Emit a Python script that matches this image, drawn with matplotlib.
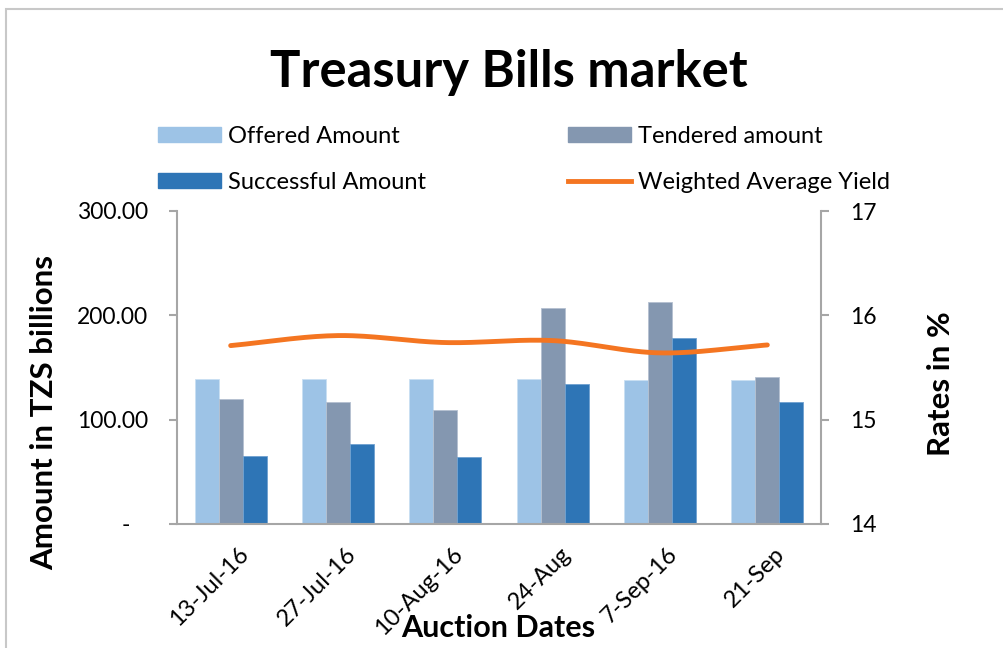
import numpy as np
import matplotlib
matplotlib.use("Agg")
import matplotlib.pyplot as plt
from matplotlib.patches import Patch, Rectangle
from matplotlib.lines import Line2D
from matplotlib.transforms import ScaledTranslation

dates = ["13-Jul-16", "27-Jul-16", "10-Aug-16", "24-Aug", "7-Sep-16", "21-Sep"]
offered = [138.6, 138.6, 138.6, 138.6, 137.7, 137.7]
tendered = [119.4, 116.8, 109.1, 207.0, 212.4, 140.6]
successful = [65.1, 76.4, 64.2, 133.8, 178.4, 116.5]
yield_pct = [15.71, 15.806, 15.739, 15.758, 15.64, 15.716]

left_ticks = [0, 100, 200, 300]
left_ticklabels = ["-   ", "100.00", "200.00", "300.00"]
right_ticks = [14, 15, 16, 17]

c_off = "#9dc3e6"
c_ten = "#8497b0"
c_suc = "#2e75b6"
c_line = "#f47521"
c_axis = "#a6a6a6"

plt.rcParams['font.family'] = ['Lato', 'DejaVu Sans']

W, H = 1004, 648
PT = 72 / 100  # points per pixel
fig = plt.figure(figsize=(W / 100, H / 100), dpi=100)

# chart border (partially cropped)
fig.add_artist(Rectangle((6 / W, -0.1), 1.2, 1 - 9 / H + 0.1, transform=fig.transFigure,
                         fill=False, edgecolor="#c8c8c8", lw=1.5))

ax = fig.add_axes([177 / W, (H - 524) / H, 644 / W, 313 / H])
x = np.arange(len(dates))
bw = 0.224
ax.bar(x - bw, offered, bw, color=c_off, edgecolor="#c9dff2", lw=0.6)
ax.bar(x, tendered, bw, color=c_ten, edgecolor="#b4c0d0", lw=0.6)
ax.bar(x + bw, successful, bw, color=c_suc, edgecolor="#6fa0d0", lw=0.6)
ax.set_xlim(-0.5, len(dates) - 0.5)
ax.set_ylim(0, 300)
ax.set_yticks(left_ticks)
ax.set_yticklabels(left_ticklabels)
ax.set_xticks(x)
ax.set_xticklabels(dates, rotation=45, ha="right", rotation_mode="anchor", fontsize=17)
ax.tick_params(axis="x", length=0, pad=14)
shift = ScaledTranslation(7 / 100, 0, fig.dpi_scale_trans)
for lab in ax.get_xticklabels():
    lab.set_transform(lab.get_transform() + shift)
ax.tick_params(axis="y", length=8 * PT, width=1.5, color=c_axis, labelsize=16.5, pad=21 * PT)
for s in ["top", "right"]:
    ax.spines[s].set_visible(False)
for s in ["left", "bottom"]:
    ax.spines[s].set_color(c_axis)
    ax.spines[s].set_linewidth(1.5)

ax2 = ax.twinx()
ax2.set_ylim(14, 17)
ax2.set_yticks(right_ticks)
ax2.tick_params(axis="y", length=8 * PT, width=1.5, color=c_axis, labelsize=16.5, pad=21 * PT)
for s in ["top", "left", "bottom"]:
    ax2.spines[s].set_visible(False)
ax2.spines["right"].set_color(c_axis)
ax2.spines["right"].set_linewidth(1.5)

# smoothed line (Catmull-Rom through the data points)
def catmull(xs, ys, n=30):
    xs = np.asarray(xs, float); ys = np.asarray(ys, float)
    px = np.concatenate([[2 * xs[0] - xs[1]], xs, [2 * xs[-1] - xs[-2]]])
    py = np.concatenate([[2 * ys[0] - ys[1]], ys, [2 * ys[-1] - ys[-2]]])
    ox, oy = [], []
    for i in range(1, len(px) - 2):
        t = np.linspace(0, 1, n)
        for arr, out in ((px, ox), (py, oy)):
            p0, p1, p2, p3 = arr[i - 1], arr[i], arr[i + 1], arr[i + 2]
            out.extend(0.5 * ((2 * p1) + (-p0 + p2) * t + (2 * p0 - 5 * p1 + 4 * p2 - p3) * t ** 2
                              + (-p0 + 3 * p1 - 3 * p2 + p3) * t ** 3))
    return np.array(ox), np.array(oy)

sx, sy = catmull(x, yield_pct)
ax2.plot(sx, sy, color=c_line, lw=3.5, solid_capstyle="round")

fig.text(44 / W, 1 - 412 / H, "Amount in TZS billions", fontsize=22.5, fontweight="bold",
         rotation=90, ha="center", va="center")
fig.text(941 / W, 1 - 384 / H, "Rates in %", fontsize=22.5, fontweight="bold",
         rotation=90, ha="center", va="center")
fig.text(498 / W, 1 - 628 / H, "Auction Dates", fontsize=22, fontweight="bold",
         ha="center", va="center")

fig.text(509 / W, 1 - 72 / H, "Treasury Bills market", fontsize=36.5, fontweight="bold",
         ha="center", va="center")

handles = [Patch(color=c_off), Patch(color=c_suc), Patch(color=c_ten),
           Line2D([], [], color=c_line, lw=3.5)]
labels = ["Offered Amount", "Successful Amount", "Tendered amount", "Weighted Average Yield"]
fs = 17
px_per_em = fs * 100 / 72
fig.legend(handles, labels, ncol=2, loc="upper left", bbox_to_anchor=(137 / W, 1 - 105 / H),
           frameon=False, fontsize=fs, handlelength=63 / px_per_em, handleheight=14 / px_per_em,
           columnspacing=6.0, labelspacing=1.05, handletextpad=0.3)

fig.savefig("out.png", dpi=100)
